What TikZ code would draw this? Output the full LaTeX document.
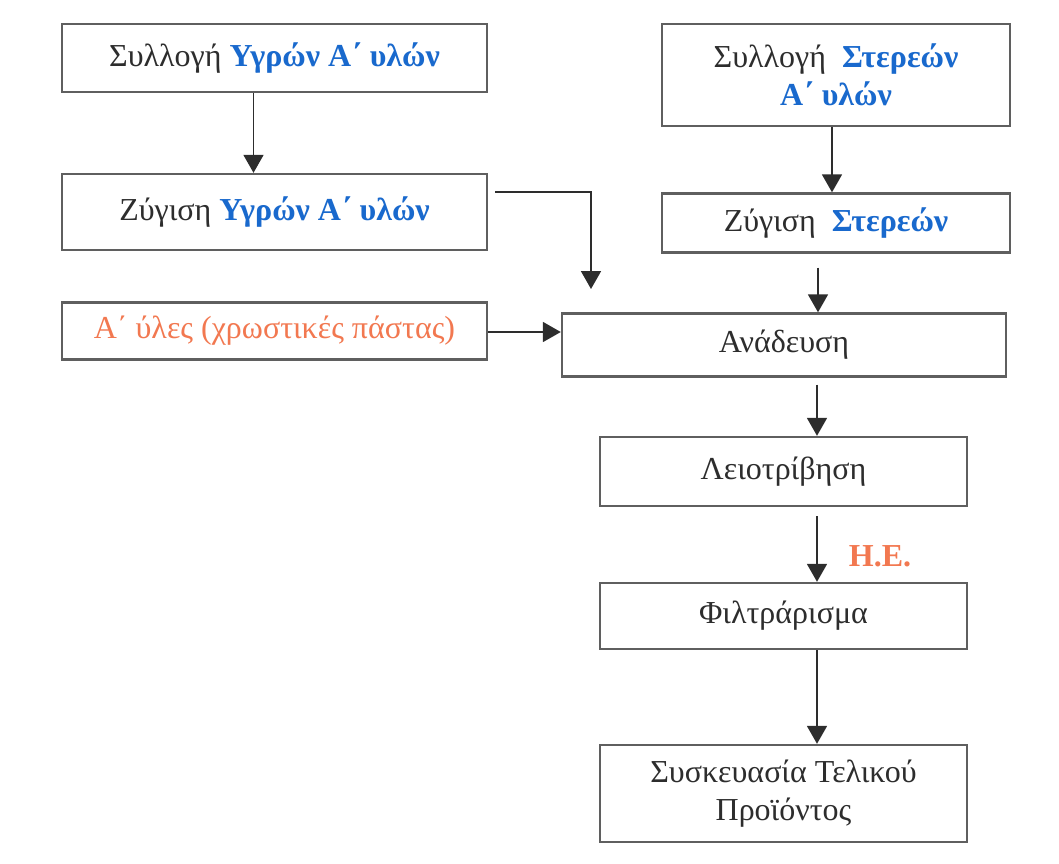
\documentclass[tikz,border=0pt]{standalone}
\usepackage{fontspec}
\setmainfont{Liberation Serif}
\usetikzlibrary{arrows.meta, positioning}
\definecolor{boxgray}{RGB}{95,95,95}
\definecolor{textgray}{RGB}{45,45,45}
\definecolor{matblue}{RGB}{25,105,205}
\definecolor{matorange}{RGB}{242,120,80}
\newcommand{\bl}[1]{\textcolor{matblue}{\bfseries #1}}

\begin{document}
\begin{tikzpicture}[x=0.5pt, y=-0.5pt,
    stage/.style={draw=boxgray, line width=1.2pt, fill=white, align=center, text=textgray, font=\fontsize{16}{19}\selectfont, inner sep=0pt},
    arr/.style={-{Triangle[length=9pt, width=10pt]}, line width=0.9pt, draw=textgray}]
    \useasboundingbox (0,0) rectangle (1059,863);
    % Flow diagram
    \node[stage, minimum width=212.5pt, minimum height=34pt] (collectliq) at (274.5,58) {Συλλογή \bl{Υγρών Α΄ υλών}};
    \node[stage, minimum width=212.5pt, minimum height=38pt] (weighliq) at (274.5,212) {Ζύγιση \bl{Υγρών Α΄ υλών}};
    \node[stage, minimum width=174pt, minimum height=51pt] (collectsol) at (836,75) {Συλλογή \ \bl{Στερεών}\\\bl{Α΄ υλών}};
    \node[stage, minimum width=174pt, minimum height=29.5pt] (weighsol) at (836,223) {Ζύγιση \ \bl{Στερεών}};
    \node[stage, minimum width=212.5pt, minimum height=28.5pt, text=matorange] (pastes) at (274.5,331) {Α΄ ύλες (χρωστικές πάστας)};
    \node[stage, minimum width=222pt, minimum height=31.5pt] (mixing) at (784,345) {Ανάδευση};
    \node[stage, minimum width=183.5pt, minimum height=34.5pt] (milling) at (783.5,471.5) {Λειοτρίβηση};
    \node[stage, minimum width=183.5pt, minimum height=33pt] (filter) at (783.5,616) {Φιλτράρισμα};
    \node[stage, minimum width=183.5pt, minimum height=48.5pt] (packing) at (783.5,793.5) {Συσκευασία Τελικού\\Προϊόντος};
    \node[text=matorange, font=\fontsize{16}{19}\selectfont\bfseries] (he) at (880,556) {Η.Ε.};
    \coordinate (liqend) at (591,289);

    \draw[arr] ([xshift=-10.5pt]collectliq.south) -- ([xshift=-10.5pt]weighliq.north);
    \draw[arr] ([xshift=-2pt]collectsol.south) -- ([xshift=-2pt]weighsol.north);
    \draw[arr, shorten <=7pt] ([xshift=-9pt]weighsol.south) -- ([xshift=-9pt]weighsol.south |- mixing.north);
    \draw[arr, shorten <=3.5pt] ([yshift=10pt]weighliq.east) -| (liqend);
    \draw[arr] ([yshift=-0.5pt]pastes.east) -- ([yshift=-0.5pt]pastes.east -| mixing.west);
    \draw[arr, shorten <=3.5pt] ([xshift=16.5pt]mixing.south) -- ([xshift=16.75pt]milling.north);
    \draw[arr, shorten <=4.5pt] ([xshift=16.75pt]milling.south) -- ([xshift=16.75pt]filter.north);
    \draw[arr] ([xshift=16.75pt]filter.south) -- ([xshift=16.75pt]packing.north);
\end{tikzpicture}
\end{document}
